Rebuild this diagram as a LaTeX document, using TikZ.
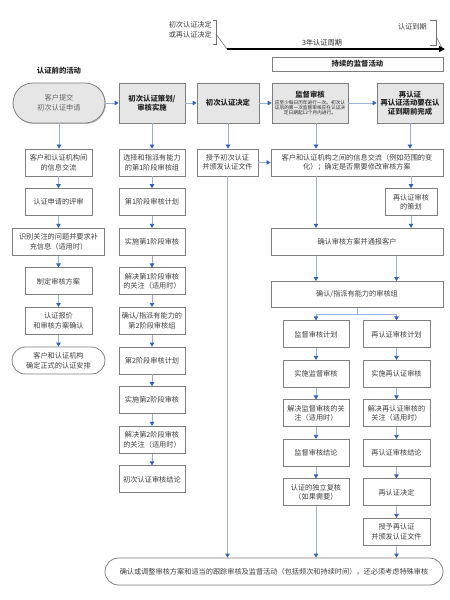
\documentclass[tikz,border=0pt]{standalone}
\usepackage{fontspec}
\setmainfont{Noto Sans CJK SC}
\usetikzlibrary{arrows.meta,shadows,calc}
\definecolor{bordergray}{HTML}{7F7F7F}
\definecolor{linkblue}{HTML}{95B3D7}
\definecolor{tipblue}{HTML}{2F62B8}
\definecolor{txtgray}{HTML}{404040}
\definecolor{headfill}{HTML}{E6E6E6}
\newcommand\boxfont{\fontsize{7.2}{9.6}\selectfont}
\newcommand\headfont{\fontsize{7.4}{9.2}\selectfont\bfseries}
\newcommand\tinyfont{\fontsize{4.7}{5.2}\selectfont\mdseries}
\begin{document}
\begin{tikzpicture}[x=1bp,y=-1bp,
  box/.style={draw=bordergray, line width=0.8bp, fill=white, text=txtgray, font=\boxfont,
    align=center, inner sep=1bp, minimum width=67bp, minimum height=27bp},
  headshadow/.style={drop shadow={shadow xshift=1bp, shadow yshift=-1bp, fill=black!40, opacity=0.6}},
  headbox/.style={box, fill=headfill, minimum height=40bp, text=black!85, font=\headfont, headshadow},
  stadium/.style={box, rounded corners=13.5bp},
  conn/.style={draw=linkblue, line width=0.8bp},
  arr/.style={conn, -{Triangle[length=4bp, width=4.5bp, color=tipblue, fill=tipblue]}},
  thin/.style={draw=black!55, line width=0.6bp},
  lbl/.style={text=black!75, font=\boxfont, inner sep=0pt}
]
\useasboundingbox (0,0) rectangle (450,600);
\fill[white] (0,0) rectangle (450,600);

% ---------- timeline ----------
\node[lbl, anchor=east, align=right] (tstart) at (212,30) {初次认证决定\\或再认证决定};
\node[lbl, anchor=east] (tend) at (427,27) {认证到期};
\node[lbl, text=black!85] (tcycle) at (322,43) {3年认证周期};
\coordinate (tA) at (227,49);
\coordinate (tB) at (445,49);
\draw[thin] (213,20) -- (216,20) -- (216,44) -- (213,44);
\draw[thin] (216,34) -- (tA);
\draw[thin] (430,20) -- (436,20) -- (436,45) -- (430,45);
\draw[thin] (436,36) -- (442,48);
\draw[line width=1.8bp, -{Triangle[length=6bp, width=6bp]}] (tA) -- (tB);

\node[box, minimum width=171bp, minimum height=14bp, text=black!85, font=\headfont] (cont) at (357.5,64) {持续的监督活动};
\node[lbl, font=\headfont, text=black!85] (pre) at (59,71) {认证前的活动};

% ---------- header row ----------
\node[box, fill=headfill, minimum width=92bp, minimum height=40bp, rounded corners=20bp,
  text=black!60, headshadow] (h1) at (59,103) {客户提交\\初次认证申请};
\node[headbox, minimum width=66bp] (h2) at (152,103) {初次认证策划/\\审核实施};
\node[headbox, minimum width=62bp] (h3) at (228,103) {初次认证决定};
\node[headbox, minimum width=76bp, text width=74bp, inner sep=0pt] (h4) at (310,103)
  {{\headfont 监督审核\par}\vspace{1.5bp}{\tinyfont 应至少每日历年进行一次。初次认\\证后的第一次监督审核应在认证决\\定日期起12个月内进行。\par}};
\node[headbox, minimum width=66bp, font=\fontsize{7.4}{8.6}\selectfont\bfseries] (h5) at (410,103) {再认证\\再认证活动要在认\\证到期前完成};

% ---------- left column ----------
\node[box] (L1) at (58.5,162.5) {客户和认证机构间\\的信息交流};
\node[box] (L2) at (58.5,202.1) {认证申请的评审};
\node[box, minimum width=92bp] (L3) at (58.5,241.7) {识别关注的问题并要求补\\充信息（适用时）};
\node[box] (L4) at (58.5,281.3) {制定审核方案};
\node[box] (L5) at (58.5,320.9) {认证报价\\和审核方案确认};
\node[stadium, minimum width=93bp] (L6) at (58.5,360.5) {客户和认证机构\\确定正式的认证安排};

% ---------- initial certification column ----------
\node[box, minimum width=66bp] (C1) at (152,162.5) {选择和指派有能力\\的第1阶段审核组};
\node[box, minimum width=66bp] (C2) at (152,202.1) {第1阶段审核计划};
\node[box, minimum width=66bp] (C3) at (152,241.7) {实施第1阶段审核};
\node[box, minimum width=66bp] (C4) at (152,281.3) {解决第1阶段审核\\的关注（适用时）};
\node[box, minimum width=66bp] (C5) at (152,320.9) {确认/指派有能力的\\第2阶段审核组};
\node[box, minimum width=66bp] (C6) at (152,360.5) {第2阶段审核计划};
\node[box, minimum width=66bp] (C7) at (152,400.1) {实施第2阶段审核};
\node[box, minimum width=66bp] (C8) at (152,439.7) {解决第2阶段审核\\的关注（适用时）};
\node[box, minimum width=66bp] (C9) at (152,479.3) {初次认证审核结论};

% ---------- decision column ----------
\node[box, minimum width=61bp] (D1) at (227.5,162.5) {授予初次认证\\并颁发认证文件};

% ---------- surveillance / recertification ----------
\node[box, minimum width=172bp] (W1) at (357,162.5) {客户和认证机构之间的信息交流（例如范围的变\\化）；确定是否需要修改审核方案};
\node[box, minimum width=52bp] (R0) at (411,202.1) {再认证审核\\的策划};
\node[box, minimum width=172bp] (W2) at (357,241.7) {确认审核方案并通报客户};
\node[box, minimum width=172bp, minimum height=26bp] (W3) at (357,294.5) {确认/指派有能力的审核组};

\node[box, minimum width=66bp] (S1) at (316,334.3) {监督审核计划};
\node[box, minimum width=66bp] (S2) at (316,373.8) {实施监督审核};
\node[box, minimum width=66bp] (S3) at (316,413.3) {解决监督审核的关\\注（适用时）};
\node[box, minimum width=66bp] (S4) at (316,452.8) {监督审核结论};
\node[box, minimum width=66bp] (S5) at (316,492.3) {认证的独立复核\\（如果需要）};

\node[box] (T1) at (396.5,334.3) {再认证审核计划};
\node[box] (T2) at (396.5,373.8) {实施再认证审核};
\node[box] (T3) at (396.5,413.3) {解决再认证审核的\\关注（适用时）};
\node[box] (T4) at (396.5,452.8) {再认证审核结论};
\node[box] (T5) at (396.5,492.3) {再认证决定};
\node[box] (T6) at (396.5,531.8) {授予再认证\\并颁发认证文件};

\node[stadium, minimum width=338bp] (B) at (274,571.5) {确认或调整审核方案和适当的跟踪审核及监督活动（包括频次和持续时间），还必须考虑特殊审核};

% ---------- connectors ----------
\draw[arr] (h1.east) -- (h2.west);
\draw[arr] (h2.east) -- (h3.west);
\draw[arr] (h3.east) -- (h4.west);
\draw[arr] (h4.east) -- (h5.west);

\draw[arr] (h1.south) -- (h1.south |- L1.north);
\draw[arr] (h2.south) -- (C1.north);
\draw[arr] (h3.south) -- (h3.south |- D1.north);
\draw[arr] (h4.south -| S1) -- (W1.north -| S1);
\draw[arr] (h5.south) -- (h5.south |- W1.north);

\foreach \a/\b in {L1/L2,L2/L3,L3/L4,L4/L5,L5/L6,
                   C1/C2,C2/C3,C3/C4,C4/C5,C5/C6,C6/C7,C7/C8,C8/C9,
                   S1/S2,S2/S3,S3/S4,S4/S5,
                   T1/T2,T2/T3,T3/T4,T4/T5,T5/T6}
  \draw[arr] (\a.south) -- (\b.north);

\draw[arr] (D1.east) -- (W1.west);
\draw[arr] (W1.south -| R0) -- (R0.north);
\draw[arr] (W1.south -| S1) -- (W2.north -| S1);
\draw[arr] (R0.south) -- (R0.south |- W2.north);
\draw[arr] (W2.south -| S1) -- (W3.north -| S1);
\draw[arr] (W2.south -| T1) -- (W3.north -| T1);
\draw[arr] (W3.south) -- ++(0,6) -| (S1.north);
\draw[arr] (W3.south) -- ++(0,6) -| (T1.north);

\draw[arr] (D1.south) -- (D1.south |- B.north);
\draw[arr] (S5.south) -- (S5.south |- B.north);
\draw[arr] (T6.south) -- (T6.south |- B.north);
\end{tikzpicture}
\end{document}
